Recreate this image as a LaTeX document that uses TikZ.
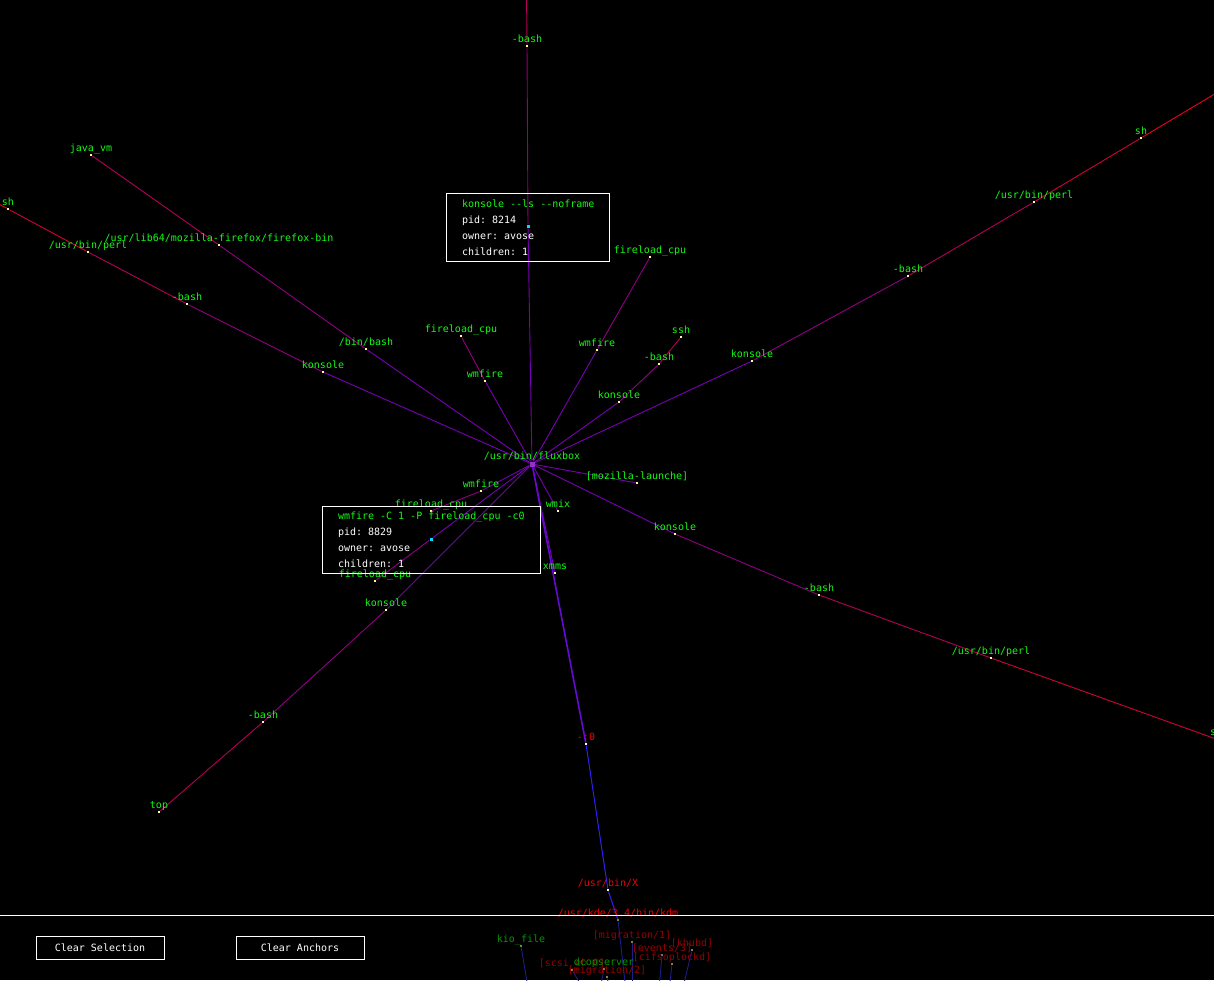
\documentclass[tikz,border=0pt]{standalone}
\usepackage{fontspec}
\setmonofont{DejaVu Sans Mono}
\usetikzlibrary{backgrounds}

\definecolor{pgreen}{RGB}{20,250,20}
\definecolor{pred}{RGB}{240,0,0}
\definecolor{dimgreen}{RGB}{0,150,0}
\definecolor{dimred}{RGB}{150,0,0}
\definecolor{pdot}{RGB}{255,255,150}
\definecolor{pcyan}{RGB}{0,220,255}
\definecolor{edgeA}{RGB}{120,0,180}
\definecolor{edgeB}{RGB}{145,0,130}
\definecolor{edgeC}{RGB}{180,0,85}
\definecolor{edgeD}{RGB}{210,0,55}
\definecolor{edgeE}{RGB}{240,0,25}
\definecolor{edgeX}{RGB}{100,10,210}
\definecolor{edgeBlue}{RGB}{50,30,245}
\definecolor{edgeNavy}{RGB}{30,30,130}

% huruf mono dengan spasi selebar satu karakter
\newcommand\procfont{\ttfamily\fontsize{10}{12}\selectfont\spaceskip 6.02pt\relax}
\newcommand\tipfont{\ttfamily\fontsize{10}{16}\selectfont\spaceskip 6.02pt\relax}

\tikzset{
  % titik proses + label di atasnya
  proc/.style={rectangle, fill=pdot, inner sep=0pt, minimum size=2.4pt, label distance=0.6pt},
  hovered/.style={proc, fill=pcyan, minimum size=3pt},
  root/.style={proc, fill=edgeA!80!white, minimum size=5pt},
  plabel/.style={text=pgreen, font=\procfont, inner sep=0pt, text height=7pt, text depth=2pt},
  rlabel/.style={plabel, text=pred},
  dglabel/.style={plabel, text=dimgreen},
  drlabel/.style={plabel, text=dimred},
  % garis menurut kedalaman pohon
  depthA/.style={line width=0.9pt, edgeA},
  depthB/.style={line width=0.9pt, edgeB},
  depthC/.style={line width=0.9pt, edgeC},
  depthD/.style={line width=0.9pt, edgeD},
  depthE/.style={line width=0.9pt, edgeE},
  xpath/.style={line width=1.6pt, edgeX},
  xblue/.style={line width=1pt, edgeBlue},
  lower/.style={line width=0.9pt, edgeNavy},
  % kotak info dan tombol
  tipbox/.style={draw=white, line width=1pt, anchor=north west, align=left,
                 inner xsep=15.5pt, inner ysep=5pt, text=white, font=\tipfont},
  button/.style={draw=white, line width=1pt, minimum width=128pt, minimum height=23pt,
                 inner sep=0pt, text=white, font=\procfont},
}

\begin{document}
\begin{tikzpicture}[x=1pt, y=-1pt]

\clip (0,0) rectangle (1214,980);

% =================== PROSES ===================
\node[root, label={[plabel]above:{/usr/bin/fluxbox}}] (fluxbox) at (532,464) {};

% atas
\node[hovered] (kls) at (528,226) {};
\node[proc, label={[plabel]above:{-bash}}] (tbash) at (527,46) {};
\coordinate (tend) at (526,-60);

% kiri atas
\node[proc, label={[plabel]above:{konsole}}] (ulkon) at (323,372) {};
\node[proc, label={[plabel]above:{-bash}}] (ulbash) at (187,304) {};
\node[proc, label={[plabel]above:{/usr/bin/perl}}] (ulperl) at (88,252) {};
\node[proc, label={[plabel]above:{sh}}] (ulsh) at (8,209) {};
\coordinate (ulend) at (-60,172);

\node[proc, label={[plabel]above:{/bin/bash}}] (ulbin) at (366,349) {};
\node[proc, label={[plabel]above:{/usr/lib64/mozilla-firefox/firefox-bin}}] (ulff) at (219,245) {};
\node[proc, label={[plabel]above:{java\_vm}}] (uljava) at (91,155) {};

\node[proc, label={[plabel]above:{wmfire}}] (ulwm) at (485,381) {};
\node[proc, label={[plabel]above:{fireload\_cpu}}] (ulfire) at (461,336) {};

% kanan atas
\node[proc, label={[plabel]above:{wmfire}}] (urwm) at (597,350) {};
\node[proc, label={[plabel]above:{fireload\_cpu}}] (urfire) at (650,257) {};

\node[proc, label={[plabel]above:{konsole}}] (urkon) at (619,402) {};
\node[proc, label={[plabel]above:{-bash}}] (urbash) at (659,364) {};
\node[proc, label={[plabel]above:{ssh}}] (urssh) at (681,337) {};

\node[proc, label={[plabel]above:{konsole}}] (rkon) at (752,361) {};
\node[proc, label={[plabel]above:{-bash}}] (rbash) at (908,276) {};
\node[proc, label={[plabel]above:{/usr/bin/perl}}] (rperl) at (1034,202) {};
\node[proc, label={[plabel]above:{sh}}] (rsh) at (1141,138) {};
\coordinate (rend) at (1290,49);

% kanan bawah
\node[proc, label={[plabel]above:{[mozilla-launche]}}] (moz) at (637,483) {};
\node[proc, label={[plabel]above:{wmix}}] (wmix) at (558,511) {};

\node[proc, label={[plabel]above:{konsole}}] (lrkon) at (675,534) {};
\node[proc, label={[plabel]above:{-bash}}] (lrbash) at (819,595) {};
\node[proc, label={[plabel]above:{/usr/bin/perl}}] (lrperl) at (991,658) {};
\node[proc, label={[plabel]above:{sh}}] (lrsh) at (1216,739) {};
\coordinate (lrend) at (1300,769);

% jalur ke X
\node[proc, label={[plabel]above:{xmms}}] (xmms) at (555,573) {};
\node[proc, fill=white, label={[rlabel]above:{-:0}}] (xsess) at (586,744) {};
\node[proc, label={[rlabel]above:{/usr/bin/X}}] (xsrv) at (608,890) {};
\node[proc, fill=pdot!50!black, label={[rlabel]above:{/usr/kde/3.4/bin/kdm}}] (kdm) at (618,920) {};

% kiri bawah
\node[proc, label={[plabel]above:{wmfire}}] (llwm) at (481,491) {};
\node[proc, label={[plabel]above:{fireload\_cpu}}] (llfire) at (431,511) {};
\node[hovered] (llwmh) at (431,539) {};
\node[proc, label={[plabel]above:{fireload\_cpu}}] (llfireh) at (375,581) {};

\node[proc, label={[plabel]above:{konsole}}] (llkon) at (386,610) {};
\node[proc, label={[plabel]above:{-bash}}] (llbash) at (263,722) {};
\node[proc, label={[plabel]above:{top}}] (lltop) at (159,812) {};

% panel bawah (redup)
\node[proc, fill=pdot!50!black, label={[dglabel]above:{kio\_file}}] (kio) at (521,946) {};
\node[proc, fill=pdot!50!black, label={[drlabel]above:{[migration/1]}}] (migA) at (632,942) {};
\node[proc, fill=pdot!50!black, label={[drlabel]above:{[khubd]}}] (khubd) at (692,950) {};
\node[proc, fill=pdot!50!black, label={[drlabel]above:{[events/3]}}] (events) at (662,955) {};
\node[proc, fill=pdot!50!black, label={[drlabel]above:{[cifsoplockd]}}] (cifs) at (672,964) {};
\node[proc, fill=pdot!50!black, label={[drlabel]above:{[scsi\_eh\_0]}}] (scsi) at (572,970) {};
\node[proc, fill=pdot!50!black, label={[dglabel]above:{dcopserver}}] (dcop) at (604,969) {};
\node[proc, fill=pdot!50!black, label={[drlabel]above:{[migration/2]}}] (migB) at (607,977) {};

\coordinate (bkdm) at (627,1000);
\coordinate (bkio) at (530,1000);
\coordinate (bscsi) at (590,1000);
\coordinate (bdcop) at (598,1000);
\coordinate (bmigB) at (612,1000);
\coordinate (bmigA) at (632,1000);
\coordinate (bevents) at (658,1000);
\coordinate (bcifs) at (668,1000);
\coordinate (bkhubd) at (680,1000);

% =================== GARIS ===================
\begin{scope}[on background layer]
\fill[black] (0,0) rectangle (1214,980);
\clip (0,0) rectangle (1214,980);

\foreach \c in {kls,ulkon,ulbin,ulwm,urwm,urkon,rkon,moz,wmix,lrkon,xmms,llwm,llwmh,llkon}
  \draw[depthA] (fluxbox) -- (\c);

\draw[depthB] (kls) -- (tbash);
\draw[depthB] (ulkon) -- (ulbash);
\draw[depthB] (ulbin) -- (ulff);
\draw[depthB] (ulwm) -- (ulfire);
\draw[depthB] (urwm) -- (urfire);
\draw[depthB] (urkon) -- (urbash);
\draw[depthB] (rkon) -- (rbash);
\draw[depthB] (lrkon) -- (lrbash);
\draw[depthB] (llwm) -- (llfire);
\draw[depthB] (llwmh) -- (llfireh);
\draw[depthB] (llkon) -- (llbash);

\draw[depthC] (tbash) -- (tend);
\draw[depthC] (ulbash) -- (ulperl);
\draw[depthC] (ulff) -- (uljava);
\draw[depthC] (urbash) -- (urssh);
\draw[depthC] (rbash) -- (rperl);
\draw[depthC] (lrbash) -- (lrperl);
\draw[depthC] (llbash) -- (lltop);

\draw[depthD] (ulperl) -- (ulsh);
\draw[depthD] (rperl) -- (rsh);
\draw[depthD] (lrperl) -- (lrsh);

\draw[depthE] (ulsh) -- (ulend);
\draw[depthE] (rsh) -- (rend);
\draw[depthE] (lrsh) -- (lrend);

% jalur terpilih
\draw[xpath] (fluxbox) -- (xsess);
\draw[xblue] (xsess) -- (xsrv);
\draw[xblue] (xsrv) -- (kdm);

% panel bawah
\draw[lower] (kdm) -- (bkdm);
\foreach \c in {kio,scsi,dcop,migB,migA,events,cifs,khubd}
  \draw[lower] (\c) -- (b\c);
\end{scope}

% =================== KOTAK INFO ===================
\node[tipbox, minimum height=68pt] (tipkls) at (446,193)
  {\textcolor{pgreen}{konsole -{}-ls -{}-noframe}\\ pid: 8214\\ owner: avose\\ children: 1};
\node[tipbox, minimum height=67pt] (tipwm) at (322,506)
  {\textcolor{pgreen}{wmfire -C 1 -P fireload\_cpu -c0}\\ pid: 8829\\ owner: avose\\ children: 1};

% =================== PANEL ===================
\draw[white, line width=1pt] (0,915) -- (1214,915);
\node[button] (clearsel) at (100,947.5) {Clear Selection};
\node[button] (clearanc) at (300,947.5) {Clear Anchors};

\end{tikzpicture}
\end{document}
